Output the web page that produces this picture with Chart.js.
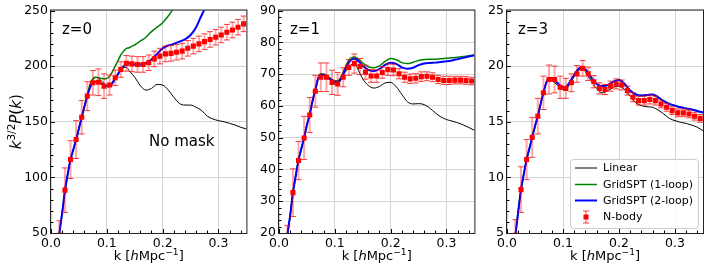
<!DOCTYPE html>
<html>
<head>
<meta charset="utf-8">
<script src="https://cdn.jsdelivr.net/npm/chart.js@4.4.1/dist/chart.umd.min.js"></script>
<style>
  html, body { margin: 0; padding: 0; background: #fff; }
  #wrap { position: relative; width: 708px; height: 276px; overflow: hidden; }
  canvas { position: absolute; top: 0; }
</style>
</head>
<body>
<div id="wrap">
  <canvas id="p0" width="250" height="276" style="left:0"></canvas>
  <canvas id="p1" width="228" height="276" style="left:250px"></canvas>
  <canvas id="p2" width="230" height="276" style="left:478px"></canvas>
</div>
<script>
// --- data ---
const seriesNames = ['Linear', 'GridSPT (1-loop)', 'GridSPT (2-loop)', 'N-body'];
const panelTitles = ['z=0', 'z=1', 'z=3'];
const xTicks = [0.0, 0.1, 0.2, 0.3];

const kLine = [0.015, 0.02, 0.025, 0.03, 0.035, 0.04, 0.045, 0.05, 0.055, 0.06, 0.065, 0.07, 0.075, 0.08,
  0.085, 0.09, 0.095, 0.1, 0.105, 0.11, 0.115, 0.12, 0.125, 0.13, 0.135, 0.14, 0.145, 0.15, 0.16, 0.17,
  0.18, 0.19, 0.2, 0.21, 0.22, 0.23, 0.24, 0.25, 0.26, 0.27, 0.28, 0.29, 0.3, 0.31, 0.32, 0.33, 0.34, 0.35];
const kNbody = [0.015, 0.025, 0.035, 0.045, 0.055, 0.065, 0.075, 0.085, 0.095, 0.105, 0.115, 0.125,
  0.135, 0.145, 0.155, 0.165, 0.175, 0.185, 0.195, 0.205, 0.215, 0.225, 0.235, 0.245, 0.255, 0.265,
  0.275, 0.285, 0.295, 0.305, 0.315, 0.325, 0.335, 0.345];

// z=0
const linear0 = [50, 68, 88, 103, 116, 125, 134, 144, 154, 164, 173, 183, 189, 190, 189, 187, 184.5, 182,
  181.5, 184, 188, 192, 196, 198.5, 199, 196, 193, 190, 182.5, 178.5, 180, 183.5, 183, 178.5, 172, 166.5,
  165, 165, 163, 160, 155, 152.5, 151, 150, 148.5, 147, 145, 143.5];
const oneLoop0 = [50, 68, 88, 103, 116, 125, 134, 144, 154, 164, 173, 184, 188, 190, 189.5, 189, 188.5, 189,
  191, 195, 200, 205, 210, 213.5, 216, 216.5, 218, 219, 222.5, 226, 231, 235, 239, 245, 252, 258,
  null, null, null, null, null, null, null, null, null, null, null, null];
const twoLoop0 = [50, 68, 88, 103, 116, 125, 134, 144, 154, 164, 173, 181, 185, 186, 186, 184.5, 183, 182,
  182, 185, 189, 193, 197, 200, 202, 202.5, 202, 201.5, 201.5, 203, 206, 211, 216, 218.5, 220, 222, 224,
  228, 235, 246, 256, null, null, null, null, null, null, null];
const nbody0 = [48, 88.5, 116, 134, 154, 173, 185, 185.5, 182, 183, 189.5, 197, 202.5, 202, 201.5, 201.5,
  203, 206.5, 209, 211, 211.5, 212.5, 213.5, 216, 218, 220, 222, 224, 226, 228, 230.5, 232.5, 235, 238];
const nbodyErr0 = [13, 20, 17, 17, 15, 13, 11, 12, 11, 9, 7, 7, 7, 7, 7, 7, 7, 7, 7, 7, 7, 7, 7, 7, 7, 7,
  7, 7, 7, 7, 7, 7, 7, 7];

// z=1
const linear1 = [19.5, 25.5, 32.7, 38, 43, 46.5, 50, 54, 57.3, 61.5, 65, 68.8, 69.8, 69.6, 69.1, 68.4, 67.6,
  67.1, 67, 67.8, 69.4, 71, 72.3, 73, 73.1, 72, 70.2, 68.5, 66.4, 65.6, 66.1, 67.2, 67.4, 66, 63.6, 61.3,
  60.6, 60.7, 60.4, 59.3, 57.8, 56.5, 55.7, 55.2, 54.7, 54, 53.2, 52.3];
const oneLoop1 = [19.5, 25.5, 32.7, 38, 43, 46.5, 50, 54, 57.3, 61.5, 65, 68.8, 70.1, 70, 69.6, 69, 68.3,
  67.9, 67.9, 68.8, 70.6, 72.7, 74.4, 75.2, 75.4, 75, 74.3, 73.5, 72.3, 72, 72.6, 74, 74.9, 74.5, 73.6,
  73.3, 73.7, 74.3, 74.6, 74.7, 74.7, 74.8, 75, 75.1, 75.3, 75.5, 75.8, 76];
const twoLoop1 = [19.5, 25.5, 32.7, 38, 43, 46.5, 50, 54, 57.3, 61.5, 65, 68.5, 69.8, 69.7, 69.3, 68.6, 68,
  67.5, 67.5, 68.3, 70, 72, 73.6, 74.5, 74.8, 74.4, 73.6, 72.6, 71.3, 70.9, 71.6, 72.9, 73.6, 73.2, 72.1,
  71.7, 72, 72.8, 73.3, 73.5, 73.6, 73.8, 74, 74.3, 74.7, 75.1, 75.5, 75.9];
const nbody1 = [18.5, 32.7, 42.8, 49.9, 57.1, 64.6, 69, 69, 67.4, 66.9, 69, 72.1, 73.3, 72.4, 70.6, 69.4,
  69.4, 70.5, 71.4, 71.3, 70.1, 69, 68.5, 68.7, 69.2, 69.3, 69, 68.3, 68, 68, 68.1, 68.1, 68, 67.8];
const nbodyErr1 = [3.9, 7.5, 6, 6.8, 5.5, 5, 4.5, 4.5, 3.8, 3.6, 3, 2.5, 3, 2.5, 2.2, 2, 2, 1.8, 1.8, 1.8,
  1.6, 1.6, 1.5, 1.5, 1.5, 1.4, 1.4, 1.3, 1.3, 1.3, 1.2, 1.2, 1.2, 1.2];

// z=3
const linear3 = [4.8, 6.9, 8.9, 10.3, 11.6, 12.6, 13.6, 14.6, 15.5, 16.6, 17.6, 18.4, 18.75, 18.7, 18.5,
  18.3, 18, 17.9, 17.9, 18.2, 18.6, 19.1, 19.5, 19.7, 19.75, 19.5, 19.1, 18.7, 18, 17.6, 17.8, 18.1, 18.2,
  17.9, 17.3, 16.7, 16.45, 16.35, 16.3, 16.05, 15.7, 15.3, 15.1, 14.95, 14.85, 14.7, 14.5, 14.2];
const oneLoop3 = [4.8, 6.9, 8.9, 10.3, 11.6, 12.6, 13.6, 14.6, 15.5, 16.6, 17.6, 18.5, 18.9, 18.9, 18.7,
  18.5, 18.2, 18.1, 18.1, 18.4, 18.8, 19.2, 19.6, 19.85, 19.9, 19.7, 19.4, 19, 18.4, 18.2, 18.3, 18.6,
  18.75, 18.4, 17.8, 17.45, 17.35, 17.4, 17.45, 17.2, 16.85, 16.6, 16.45, 16.3, 16.2, 16.1, 15.97, 15.83];
const twoLoop3 = [4.8, 6.9, 8.9, 10.3, 11.6, 12.6, 13.6, 14.6, 15.5, 16.6, 17.6, 18.5, 18.9, 18.9, 18.7,
  18.5, 18.2, 18.1, 18.1, 18.4, 18.8, 19.2, 19.6, 19.85, 19.9, 19.7, 19.4, 19, 18.4, 18.2, 18.3, 18.6,
  18.75, 18.4, 17.8, 17.45, 17.35, 17.4, 17.45, 17.2, 16.85, 16.6, 16.45, 16.3, 16.2, 16.1, 15.97, 15.83];
const nbody3 = [4.8, 8.9, 11.6, 13.6, 15.5, 17.6, 18.8, 18.8, 18.1, 18, 18.5, 19.3, 19.8, 19.3, 18.6, 18,
  17.9, 18.2, 18.4, 18.3, 17.8, 17.2, 16.9, 16.9, 17, 16.9, 16.6, 16.3, 16, 15.8, 15.8, 15.7, 15.5, 15.3];
const nbodyErr3 = [1.4, 2.05, 1.8, 1.8, 1.6, 1.5, 1.3, 1.2, 1, 0.9, 0.8, 0.75, 0.7, 0.6, 0.55, 0.5, 0.45,
  0.45, 0.45, 0.45, 0.4, 0.4, 0.4, 0.4, 0.4, 0.4, 0.35, 0.35, 0.35, 0.35, 0.35, 0.35, 0.35, 0.35];

const yRange = [[50, 250], [20, 90], [5, 25]];
const yMajor = [50, 10, 5];

// --- styles ---
const FONT = 'DejaVu Sans';
const colors = ['#000000', '#008000', '#0000ff', '#ff0000'];
const GRID = '#d4d4d4';

const isMult = (v, step) => Math.abs(v / step - Math.round(v / step)) < 1e-6;
const toPts = (ks, vs) => ks.map((k, i) => ({ x: k, y: vs[i] }));

// draws text made of parts (italic / superscript)
function drawRich(ctx, parts, x, y, size) {
  const segs = parts.map(p => {
    const s = p.sup ? size * 0.7 : size;
    const f = (p.it ? 'italic ' : '') + s + 'px "' + FONT + '"';
    ctx.font = f;
    return { p: p, f: f, w: ctx.measureText(p.t).width };
  });
  const total = segs.reduce((a, b) => a + b.w, 0);
  let cx = x - total / 2;
  ctx.textAlign = 'left';
  segs.forEach(sg => {
    ctx.font = sg.f;
    ctx.fillText(sg.p.t, cx, sg.p.sup ? y - size * 0.38 : y);
    cx += sg.w;
  });
}

function drawErrBar(ctx, px, lo, hi) {
  ctx.strokeStyle = 'rgba(255,0,0,0.35)';
  ctx.lineWidth = 2;
  ctx.beginPath(); ctx.moveTo(px, lo); ctx.lineTo(px, hi); ctx.stroke();
  ctx.strokeStyle = 'rgba(240,0,0,0.75)';
  ctx.lineWidth = 1;
  ctx.beginPath();
  ctx.moveTo(px - 3, lo); ctx.lineTo(px + 3, lo);
  ctx.moveTo(px - 3, hi); ctx.lineTo(px + 3, hi);
  ctx.stroke();
}

const decor = {
  id: 'decor',
  beforeDatasetDraw(chart, args) {
    const ds = chart.data.datasets[args.index];
    if (!ds.errors) return;
    const { ctx, chartArea: a, scales: { x, y } } = chart;
    ctx.save();
    ctx.beginPath(); ctx.rect(a.left, a.top, a.width, a.height); ctx.clip();
    ds.data.forEach((p, i) => {
      const px = x.getPixelForValue(p.x);
      drawErrBar(ctx, px, y.getPixelForValue(p.y - ds.errors[i]), y.getPixelForValue(p.y + ds.errors[i]));
    });
    ctx.restore();
  },
  afterDatasetsDraw(chart, args, o) {
    const { ctx, chartArea: a, scales: { x, y } } = chart;
    ctx.save();
    // inward ticks
    ctx.strokeStyle = '#000'; ctx.lineWidth = 1;
    ctx.beginPath();
    x.ticks.forEach(t => {
      if (!isMult(t.value, 0.02) || t.value > x.max + 1e-9) return;
      const px = Math.round(x.getPixelForValue(t.value)) + 0.5;
      const len = isMult(t.value, 0.1) ? 4 : 2.5;
      ctx.moveTo(px, a.bottom); ctx.lineTo(px, a.bottom - len);
    });
    y.ticks.forEach(t => {
      if (!isMult(t.value, o.yMinor)) return;
      const py = Math.round(y.getPixelForValue(t.value)) + 0.5;
      const len = isMult(t.value, o.yMajor) ? 4 : 2.5;
      ctx.moveTo(a.left, py); ctx.lineTo(a.left + len, py);
    });
    ctx.stroke();
    // frame
    ctx.strokeStyle = '#222';
    ctx.strokeRect(a.left - 0.5, a.top - 0.5, a.width + 1, a.height + 1);

    ctx.fillStyle = '#000';
    ctx.textBaseline = 'alphabetic';
    ctx.textAlign = 'left';
    ctx.font = '15px "' + FONT + '"';
    ctx.fillText(o.title, a.left + 11, a.top + 23);
    if (o.note) ctx.fillText(o.note, a.left + 98, a.top + 135);

    // axis titles
    drawRich(ctx, [{ t: 'k [' }, { t: 'h', it: true }, { t: 'Mpc' }, { t: '\u22121', sup: true }, { t: ']' }],
      (a.left + a.right) / 2, 260, 13);
    if (o.yTitle) {
      ctx.save();
      ctx.translate(15, (a.top + a.bottom) / 2);
      ctx.rotate(-Math.PI / 2);
      drawRich(ctx, [{ t: 'k', it: true }, { t: '3/2', sup: true }, { t: 'P', it: true }, { t: '(' },
        { t: 'k', it: true }, { t: ')' }], 0, 6, 15);
      ctx.restore();
    }

    // legend
    if (o.legend) {
      const w = 128, h = 69;
      const bx = a.right - 5 - w, by = a.bottom - 5 - h;
      ctx.fillStyle = 'rgba(255,255,255,0.85)';
      ctx.strokeStyle = '#cccccc';
      ctx.beginPath();
      ctx.roundRect(bx + 0.5, by + 0.5, w, h, 3);
      ctx.fill(); ctx.stroke();
      const rows = [9, 25.5, 41.5, 58];
      const widths = [1, 1.5, 2];
      ctx.font = '11px "' + FONT + '"';
      ctx.textBaseline = 'middle';
      seriesNames.forEach((name, i) => {
        const ry = by + rows[i];
        if (i < 3) {
          ctx.strokeStyle = colors[i]; ctx.lineWidth = widths[i];
          ctx.beginPath(); ctx.moveTo(bx + 5, ry); ctx.lineTo(bx + 27, ry); ctx.stroke();
        } else {
          drawErrBar(ctx, bx + 16, ry + 6, ry - 6);
          ctx.fillStyle = colors[3];
          ctx.fillRect(bx + 13.5, ry - 2.5, 5, 5);
        }
        ctx.fillStyle = '#000';
        ctx.fillText(name, bx + 33, ry + 0.5);
      });
    }
    ctx.restore();
  }
};

const panels = [
  { id: 'p0', axisW: 51, padR: 3, lin: linear0, one: oneLoop0, two: twoLoop0, nb: nbody0, err: nbodyErr0,
    note: 'No mask', yTitle: true, legend: false },
  { id: 'p1', axisW: 29, padR: 3, lin: linear1, one: oneLoop1, two: twoLoop1, nb: nbody1, err: nbodyErr1,
    note: '', yTitle: false, legend: false },
  { id: 'p2', axisW: 29, padR: 5, lin: linear3, one: oneLoop3, two: twoLoop3, nb: nbody3, err: nbodyErr3,
    note: '', yTitle: false, legend: true }
];

panels.forEach((p, idx) => {
  const major = yMajor[idx], minor = major / 5;
  const tickFont = { family: FONT, size: 12.5 };
  new Chart(document.getElementById(p.id), {
    type: 'line',
    data: {
      datasets: [
        { label: seriesNames[3], data: toPts(kNbody, p.nb), errors: p.err, showLine: false,
          pointStyle: 'rect', pointRadius: 3.6, pointBackgroundColor: colors[3], pointBorderWidth: 0,
          pointHoverRadius: 3.6, clip: 0 },
        { label: seriesNames[2], data: toPts(kLine, p.two), borderColor: colors[2], borderWidth: 2,
          pointRadius: 0, cubicInterpolationMode: 'monotone', clip: 0 },
        { label: seriesNames[1], data: toPts(kLine, p.one), borderColor: colors[1], borderWidth: 1.5,
          pointRadius: 0, cubicInterpolationMode: 'monotone', clip: 0 },
        { label: seriesNames[0], data: toPts(kLine, p.lin), borderColor: colors[0], borderWidth: 1,
          pointRadius: 0, cubicInterpolationMode: 'monotone', clip: 0 }
      ]
    },
    plugins: [decor],
    options: {
      responsive: false,
      animation: false,
      devicePixelRatio: 1,
      layout: { padding: { top: 9, right: p.padR, left: 0, bottom: 0 } },
      scales: {
        x: {
          type: 'linear', min: 0, max: 0.35, bounds: 'data',
          afterFit: s => { s.height = 43; },
          border: { display: false },
          grid: { color: c => (c.tick && xTicks.some(v => Math.abs(v - c.tick.value) < 1e-6)) ? GRID : 'transparent',
            drawTicks: false },
          ticks: { stepSize: 0.02, autoSkip: false, maxRotation: 0, padding: 3, color: '#000', font: tickFont,
            callback: v => xTicks.some(t => Math.abs(t - v) < 1e-6) ? v.toFixed(1) : '' }
        },
        y: {
          type: 'linear', min: yRange[idx][0], max: yRange[idx][1], bounds: 'data',
          afterFit: s => { s.width = p.axisW; },
          border: { display: false },
          grid: { color: c => (c.tick && isMult(c.tick.value, major)) ? GRID : 'transparent', drawTicks: false },
          ticks: { stepSize: minor, autoSkip: false, padding: 3, color: '#000', font: tickFont,
            callback: v => isMult(v, major) ? String(v) : '' }
        }
      },
      plugins: {
        legend: { display: false },
        tooltip: { enabled: false },
        decor: { title: panelTitles[idx], note: p.note, yTitle: p.yTitle, legend: p.legend,
          yMajor: major, yMinor: minor }
      }
    }
  });
});
</script>
</body>
</html>
